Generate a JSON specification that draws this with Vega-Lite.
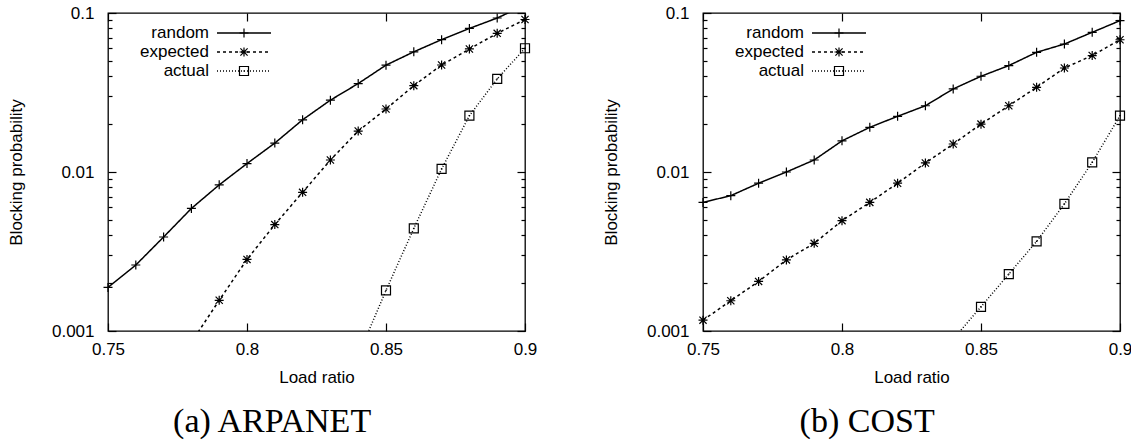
{
  "$schema": "https://vega.github.io/schema/vega-lite/v6.json",
  "background": "white",
  "padding": {"left": 6, "top": 3, "right": 0, "bottom": 0},
  "spacing": 63,
  "datasets": {
    "arpanet": [
      {"load": 0.75, "series": "random", "p": 0.00188},
      {"load": 0.76, "series": "random", "p": 0.0026},
      {"load": 0.77, "series": "random", "p": 0.0039},
      {"load": 0.78, "series": "random", "p": 0.0059},
      {"load": 0.79, "series": "random", "p": 0.0083},
      {"load": 0.80, "series": "random", "p": 0.0113},
      {"load": 0.81, "series": "random", "p": 0.0152},
      {"load": 0.82, "series": "random", "p": 0.0213},
      {"load": 0.83, "series": "random", "p": 0.0283},
      {"load": 0.84, "series": "random", "p": 0.036},
      {"load": 0.85, "series": "random", "p": 0.047},
      {"load": 0.86, "series": "random", "p": 0.057},
      {"load": 0.87, "series": "random", "p": 0.068},
      {"load": 0.88, "series": "random", "p": 0.080},
      {"load": 0.89, "series": "random", "p": 0.093},
      {"load": 0.90, "series": "random", "p": 0.112},
      {"load": 0.78, "series": "expected", "p": 0.00085},
      {"load": 0.79, "series": "expected", "p": 0.00156},
      {"load": 0.80, "series": "expected", "p": 0.00282},
      {"load": 0.81, "series": "expected", "p": 0.00467},
      {"load": 0.82, "series": "expected", "p": 0.00745},
      {"load": 0.83, "series": "expected", "p": 0.0119},
      {"load": 0.84, "series": "expected", "p": 0.0181},
      {"load": 0.85, "series": "expected", "p": 0.0249},
      {"load": 0.86, "series": "expected", "p": 0.0349},
      {"load": 0.87, "series": "expected", "p": 0.0471},
      {"load": 0.88, "series": "expected", "p": 0.0594},
      {"load": 0.89, "series": "expected", "p": 0.0745},
      {"load": 0.90, "series": "expected", "p": 0.091},
      {"load": 0.84, "series": "actual", "p": 0.0007},
      {"load": 0.85, "series": "actual", "p": 0.0018},
      {"load": 0.86, "series": "actual", "p": 0.00442},
      {"load": 0.87, "series": "actual", "p": 0.01045},
      {"load": 0.88, "series": "actual", "p": 0.0226},
      {"load": 0.89, "series": "actual", "p": 0.0385},
      {"load": 0.90, "series": "actual", "p": 0.060}
    ],
    "cost": [
      {"load": 0.75, "series": "random", "p": 0.00644},
      {"load": 0.76, "series": "random", "p": 0.0071},
      {"load": 0.77, "series": "random", "p": 0.0085},
      {"load": 0.78, "series": "random", "p": 0.0100},
      {"load": 0.79, "series": "random", "p": 0.0119},
      {"load": 0.80, "series": "random", "p": 0.0157},
      {"load": 0.81, "series": "random", "p": 0.0191},
      {"load": 0.82, "series": "random", "p": 0.0224},
      {"load": 0.83, "series": "random", "p": 0.0261},
      {"load": 0.84, "series": "random", "p": 0.0333},
      {"load": 0.85, "series": "random", "p": 0.040},
      {"load": 0.86, "series": "random", "p": 0.0467},
      {"load": 0.87, "series": "random", "p": 0.0566},
      {"load": 0.88, "series": "random", "p": 0.0638},
      {"load": 0.89, "series": "random", "p": 0.0756},
      {"load": 0.90, "series": "random", "p": 0.0895},
      {"load": 0.75, "series": "expected", "p": 0.00117},
      {"load": 0.76, "series": "expected", "p": 0.00155},
      {"load": 0.77, "series": "expected", "p": 0.00205},
      {"load": 0.78, "series": "expected", "p": 0.0028},
      {"load": 0.79, "series": "expected", "p": 0.00356},
      {"load": 0.80, "series": "expected", "p": 0.00494},
      {"load": 0.81, "series": "expected", "p": 0.00644},
      {"load": 0.82, "series": "expected", "p": 0.0085},
      {"load": 0.83, "series": "expected", "p": 0.0114},
      {"load": 0.84, "series": "expected", "p": 0.0150},
      {"load": 0.85, "series": "expected", "p": 0.0200},
      {"load": 0.86, "series": "expected", "p": 0.0261},
      {"load": 0.87, "series": "expected", "p": 0.0341},
      {"load": 0.88, "series": "expected", "p": 0.0451},
      {"load": 0.89, "series": "expected", "p": 0.054},
      {"load": 0.90, "series": "expected", "p": 0.0679},
      {"load": 0.84, "series": "actual", "p": 0.00089},
      {"load": 0.85, "series": "actual", "p": 0.00142},
      {"load": 0.86, "series": "actual", "p": 0.00228},
      {"load": 0.87, "series": "actual", "p": 0.00366},
      {"load": 0.88, "series": "actual", "p": 0.0063},
      {"load": 0.89, "series": "actual", "p": 0.0115},
      {"load": 0.90, "series": "actual", "p": 0.0226}
    ]
  },
  "resolve": {"scale": {"strokeDash": "independent", "shape": "independent", "strokeWidth": "independent"}},
  "hconcat": [
    {
      "width": 417,
      "height": 318,
      "title": {"text": "(a) ARPANET", "orient": "bottom", "anchor": "middle", "frame": "bounds", "font": "Liberation Serif", "fontSize": 34, "fontWeight": "normal", "color": "#000", "offset": 20},
      "data": {"name": "arpanet"},
      "layer": [
        {
          "mark": {"type": "line", "clip": true, "color": "#000"},
          "encoding": {
            "x": {"field": "load", "type": "quantitative", "scale": {"domain": [0.75, 0.9], "nice": false, "zero": false},
                  "axis": {"orient": "bottom", "values": [0.75, 0.8, 0.85, 0.9], "format": "~g", "tickSize": -8, "labelPadding": 18, "title": "Load ratio", "titlePadding": 12}},
            "y": {"field": "p", "type": "quantitative", "scale": {"type": "log", "domain": [0.001, 0.1], "nice": false},
                  "axis": {"orient": "left", "values": [0.001, 0.002, 0.003, 0.004, 0.005, 0.006, 0.007, 0.008, 0.009, 0.01, 0.02, 0.03, 0.04, 0.05, 0.06, 0.07, 0.08, 0.09, 0.1],
                           "labelExpr": "indexof([0.1, 0.01, 0.001], datum.value) >= 0 ? format(datum.value, '~g') : ''",
                           "tickSize": {"condition": {"test": "indexof([0.1, 0.01, 0.001], datum.value) >= 0", "value": -8}, "value": -4},
                           "labelPadding": 22, "title": "Blocking probability", "titlePadding": 26}},
            "strokeDash": {"field": "series", "type": "nominal", "scale": {"domain": ["random", "expected", "actual"], "range": [[1, 0], [3, 3], [1, 2]]},
                           "legend": {"orient": "none", "legendX": 126, "legendY": 10, "title": null, "symbolType": "M-3,0H3", "symbolSize": 324, "symbolStrokeColor": "#000", "symbolStrokeWidth": 1.3, "labelAlign": "right", "labelOffset": -45, "labelFont": "Liberation Sans", "labelFontSize": 17, "labelColor": "#000", "labelLimit": 0, "rowPadding": 1, "padding": 0}},
            "strokeWidth": {"field": "series", "type": "nominal", "scale": {"domain": ["random", "expected", "actual"], "range": [1.5, 1.5, 1]}, "legend": null}
          }
        },
        {
          "transform": [{"filter": "datum.p >= 0.001 && datum.p <= 0.1"}, {"calculate": "datum.series", "as": "marker"}],
          "mark": {"type": "point", "filled": false, "color": "#000", "strokeWidth": 1.2, "size": 324, "opacity": 1},
          "encoding": {
            "x": {"field": "load", "type": "quantitative", "scale": {"domain": [0.75, 0.9], "nice": false, "zero": false},
                  "axis": {"orient": "top", "values": [0.75, 0.8, 0.85, 0.9], "labels": false, "tickSize": -8, "title": null}},
            "y": {"field": "p", "type": "quantitative", "scale": {"type": "log", "domain": [0.001, 0.1], "nice": false},
                  "axis": {"orient": "right", "values": [0.001, 0.002, 0.003, 0.004, 0.005, 0.006, 0.007, 0.008, 0.009, 0.01, 0.02, 0.03, 0.04, 0.05, 0.06, 0.07, 0.08, 0.09, 0.1],
                           "labels": false, "title": null,
                           "tickSize": {"condition": {"test": "indexof([0.1, 0.01, 0.001], datum.value) >= 0", "value": -8}, "value": -4}}},
            "shape": {"field": "marker", "type": "nominal", "sort": ["random", "expected", "actual"],
                      "scale": {"range": ["M-0.5,0H0.5M0,-0.5V0.5", "M-0.5,0H0.5M0,-0.5V0.5M-0.4,-0.4L0.4,0.4M-0.4,0.4L0.4,-0.4", "M-0.5,-0.5H0.5V0.5H-0.5ZM-0.08,0H0.08"]},
                      "legend": {"orient": "none", "legendX": 126, "legendY": 10, "title": null, "symbolSize": 324, "symbolStrokeColor": "#000", "symbolFillColor": "transparent", "symbolStrokeWidth": 1.2, "labelAlign": "right", "labelOffset": -45, "labelFont": "Liberation Sans", "labelFontSize": 17, "labelOpacity": 0, "labelLimit": 0, "rowPadding": 1, "padding": 0}}
          }
        }
      ],
      "resolve": {"axis": {"x": "independent", "y": "independent"}}
    },
    {
      "width": 417,
      "height": 318,
      "title": {"text": "(b) COST", "orient": "bottom", "anchor": "middle", "frame": "bounds", "font": "Liberation Serif", "fontSize": 34, "fontWeight": "normal", "color": "#000", "offset": 20},
      "data": {"name": "cost"},
      "layer": [
        {
          "mark": {"type": "line", "clip": true, "color": "#000"},
          "encoding": {
            "x": {"field": "load", "type": "quantitative", "scale": {"domain": [0.75, 0.9], "nice": false, "zero": false},
                  "axis": {"orient": "bottom", "values": [0.75, 0.8, 0.85, 0.9], "format": "~g", "tickSize": -8, "labelPadding": 18, "title": "Load ratio", "titlePadding": 12}},
            "y": {"field": "p", "type": "quantitative", "scale": {"type": "log", "domain": [0.001, 0.1], "nice": false},
                  "axis": {"orient": "left", "values": [0.001, 0.002, 0.003, 0.004, 0.005, 0.006, 0.007, 0.008, 0.009, 0.01, 0.02, 0.03, 0.04, 0.05, 0.06, 0.07, 0.08, 0.09, 0.1],
                           "labelExpr": "indexof([0.1, 0.01, 0.001], datum.value) >= 0 ? format(datum.value, '~g') : ''",
                           "tickSize": {"condition": {"test": "indexof([0.1, 0.01, 0.001], datum.value) >= 0", "value": -8}, "value": -4},
                           "labelPadding": 22, "title": "Blocking probability", "titlePadding": 26}},
            "strokeDash": {"field": "series", "type": "nominal", "scale": {"domain": ["random", "expected", "actual"], "range": [[1, 0], [3, 3], [1, 2]]},
                           "legend": {"orient": "none", "legendX": 126, "legendY": 10, "title": null, "symbolType": "M-3,0H3", "symbolSize": 324, "symbolStrokeColor": "#000", "symbolStrokeWidth": 1.3, "labelAlign": "right", "labelOffset": -45, "labelFont": "Liberation Sans", "labelFontSize": 17, "labelColor": "#000", "labelLimit": 0, "rowPadding": 1, "padding": 0}},
            "strokeWidth": {"field": "series", "type": "nominal", "scale": {"domain": ["random", "expected", "actual"], "range": [1.5, 1.5, 1]}, "legend": null}
          }
        },
        {
          "transform": [{"filter": "datum.p >= 0.001 && datum.p <= 0.1"}, {"calculate": "datum.series", "as": "marker"}],
          "mark": {"type": "point", "filled": false, "color": "#000", "strokeWidth": 1.2, "size": 324, "opacity": 1},
          "encoding": {
            "x": {"field": "load", "type": "quantitative", "scale": {"domain": [0.75, 0.9], "nice": false, "zero": false},
                  "axis": {"orient": "top", "values": [0.75, 0.8, 0.85, 0.9], "labels": false, "tickSize": -8, "title": null}},
            "y": {"field": "p", "type": "quantitative", "scale": {"type": "log", "domain": [0.001, 0.1], "nice": false},
                  "axis": {"orient": "right", "values": [0.001, 0.002, 0.003, 0.004, 0.005, 0.006, 0.007, 0.008, 0.009, 0.01, 0.02, 0.03, 0.04, 0.05, 0.06, 0.07, 0.08, 0.09, 0.1],
                           "labels": false, "title": null,
                           "tickSize": {"condition": {"test": "indexof([0.1, 0.01, 0.001], datum.value) >= 0", "value": -8}, "value": -4}}},
            "shape": {"field": "marker", "type": "nominal", "sort": ["random", "expected", "actual"],
                      "scale": {"range": ["M-0.5,0H0.5M0,-0.5V0.5", "M-0.5,0H0.5M0,-0.5V0.5M-0.4,-0.4L0.4,0.4M-0.4,0.4L0.4,-0.4", "M-0.5,-0.5H0.5V0.5H-0.5ZM-0.08,0H0.08"]},
                      "legend": {"orient": "none", "legendX": 126, "legendY": 10, "title": null, "symbolSize": 324, "symbolStrokeColor": "#000", "symbolFillColor": "transparent", "symbolStrokeWidth": 1.2, "labelAlign": "right", "labelOffset": -45, "labelFont": "Liberation Sans", "labelFontSize": 17, "labelOpacity": 0, "labelLimit": 0, "rowPadding": 1, "padding": 0}}
          }
        }
      ],
      "resolve": {"axis": {"x": "independent", "y": "independent"}}
    }
  ],
  "config": {
    "view": {"stroke": "#000", "strokeWidth": 1.3},
    "font": "Liberation Sans",
    "axis": {"labelFont": "Liberation Sans", "labelFontSize": 17, "labelColor": "#000", "titleFont": "Liberation Sans", "titleFontSize": 17, "titleFontWeight": "normal", "titleColor": "#000", "domain": false, "grid": false, "tickColor": "#000", "tickWidth": 1.2, "labelFlush": false, "labelOverlap": false}
  }
}
